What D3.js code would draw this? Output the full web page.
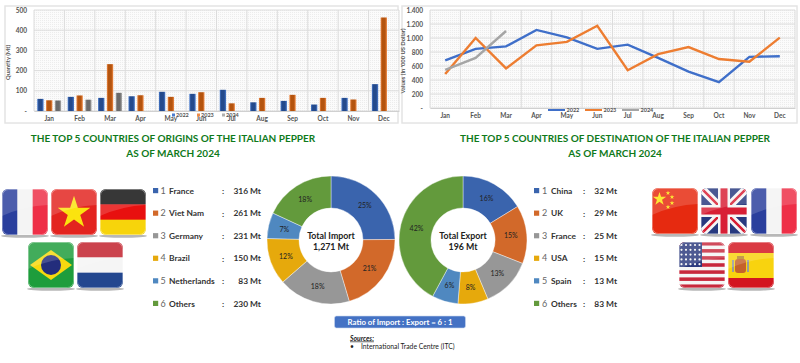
<!DOCTYPE html>
<html>
<head>
<meta charset="utf-8">
<script src="https://cdn.jsdelivr.net/npm/d3@7"></script>
<style>
	html, body { margin: 0; padding: 0; background: #fff; overflow: hidden; }
	svg { display: block; font-family: Lato, "Open Sans", sans-serif; }
</style>
</head>
<body>
<svg id="chart" width="800" height="363"></svg>
<script>
const MONTHS = ['Jan', 'Feb', 'Mar', 'Apr', 'May', 'Jun', 'Jul', 'Aug', 'Sep', 'Oct', 'Nov', 'Dec'];
const YEARS = ['2022', '2023', '2024'];

const QTY_2022 = [60, 70, 65, 73, 95, 85, 105, 43, 50, 32, 65, 133];
const QTY_2023 = [53, 77, 232, 78, 70, 93, 38, 65, 80, 65, 57, 463];
const QTY_2024 = [52, 56, 90];
const QTY_TICKS = [0, 100, 200, 300, 400, 500];

const VAL_2022 = [680, 845, 880, 1115, 1010, 845, 905, 715, 520, 370, 730, 740];
const VAL_2023 = [485, 1000, 565, 895, 945, 1175, 540, 770, 870, 700, 660, 1005];
const VAL_2024 = [545, 715, 1100];
const VAL_TICKS = [0, 200, 400, 600, 800, 1000, 1200, 1400];

const IMPORT_NAMES = ['France', 'Viet Nam', 'Germany', 'Brazil', 'Netherlands', 'Others'];
const IMPORT_MT = [316, 261, 231, 150, 83, 230];
const IMPORT_PCT = [25, 21, 18, 12, 7, 18];
const EXPORT_NAMES = ['China', 'UK', 'France', 'USA', 'Spain', 'Others'];
const EXPORT_MT = [32, 29, 25, 15, 13, 83];
const EXPORT_PCT = [16, 15, 13, 8, 6, 42];

const SLICE_COLORS = ['#3a64ad', '#d2692a', '#979797', '#e6a90c', '#4f88c0', '#639a3c'];
const LINE_COLORS = ['#3f6fc9', '#ed7d31', '#a5a5a5'];
const BAR_EDGE = ['#4a7ccf', '#f08a45', '#b0b0b0'];
const BAR_DARK = ['#244a8c', '#b4540f', '#6a6a6a'];

const svg = d3.select('#chart');
const defs = svg.append('defs');

// dotted texture behind both plots
const dots = defs.append('pattern')
	.attr('id', 'dots')
	.attr('width', 2)
	.attr('height', 2)
	.attr('patternUnits', 'userSpaceOnUse');
dots.append('rect').attr('width', 2).attr('height', 2).attr('fill', '#fbfbfb');
dots.append('rect').attr('width', 1).attr('height', 1).attr('fill', '#ececec');

// bevel look of the bars
YEARS.forEach((year, i) => {
	const grad = defs.append('linearGradient').attr('id', `bar-${i}`);
	grad.append('stop').attr('offset', '0%').attr('stop-color', BAR_EDGE[i]);
	grad.append('stop').attr('offset', '25%').attr('stop-color', BAR_DARK[i]);
	grad.append('stop').attr('offset', '70%').attr('stop-color', BAR_DARK[i]);
	grad.append('stop').attr('offset', '100%').attr('stop-color', BAR_EDGE[i]);
});

function drawPlotFrame(frame, plot, x, y, ticks, tickText, yLabel, yLabelX) {
	svg.append('rect')
		.attr('x', frame.x).attr('y', frame.y)
		.attr('width', frame.w).attr('height', frame.h)
		.attr('fill', '#fff')
		.attr('stroke', '#e4e4e4')
		.attr('stroke-width', 1.5);

	const g = svg.append('g');
	g.append('rect')
		.attr('x', plot.left).attr('y', plot.top)
		.attr('width', plot.right - plot.left)
		.attr('height', plot.bottom - plot.top)
		.attr('fill', 'url(#dots)');

	// horizontal grid
	g.selectAll('line.h').data(ticks).enter().append('line')
		.attr('x1', plot.left).attr('x2', plot.right)
		.attr('y1', (d) => y(d)).attr('y2', (d) => y(d))
		.attr('stroke', '#dcdcdc').attr('stroke-width', 1);

	// vertical grid on the band edges
	g.selectAll('line.v').data(MONTHS).enter().append('line')
		.attr('x1', (d) => x(d)).attr('x2', (d) => x(d))
		.attr('y1', plot.top).attr('y2', plot.bottom)
		.attr('stroke', '#dcdcdc').attr('stroke-width', 1);
	g.append('line')
		.attr('x1', plot.right).attr('x2', plot.right)
		.attr('y1', plot.top).attr('y2', plot.bottom)
		.attr('stroke', '#dcdcdc');

	const axisY = g.append('g')
		.attr('transform', `translate(${plot.left - 4}, 0)`)
		.call(d3.axisLeft(y).tickValues(ticks).tickSize(0).tickFormat(tickText));
	axisY.select('.domain').remove();
	axisY.selectAll('text')
		.attr('font-family', 'Lato')
		.attr('font-size', 6.5)
		.attr('font-weight', 700)
		.attr('fill', '#555');

	const axisX = g.append('g')
		.attr('transform', `translate(0, ${plot.bottom})`)
		.call(d3.axisBottom(x).tickSize(0).tickPadding(5));
	axisX.select('.domain').attr('stroke', '#d0d0d0');
	axisX.selectAll('text')
		.attr('font-family', 'Lato')
		.attr('font-size', 6.5)
		.attr('font-weight', 700)
		.attr('fill', '#555');

	g.append('text')
		.attr('transform', `translate(${yLabelX}, ${(plot.top + plot.bottom) / 2 + 2}) rotate(-90)`)
		.attr('text-anchor', 'middle')
		.attr('font-size', 5.8)
		.attr('font-weight', 700)
		.attr('fill', '#555')
		.text(yLabel);
}

function renderBars() {
	const plot = {left: 34, right: 399, top: 10, bottom: 111};
	const x = d3.scaleBand().domain(MONTHS).range([plot.left, plot.right]);
	const y = d3.scaleLinear().domain([0, 500]).range([plot.bottom, plot.top]);
	const inner = d3.scaleBand().domain(YEARS).range([0, x.bandwidth()]).paddingInner(0.28).paddingOuter(0.37);

	drawPlotFrame({x: 5, y: 6, w: 393, h: 117}, plot, x, y, QTY_TICKS,
		(d) => (d === 0 ? '-' : d), 'Quantity (Mt)', 10);

	[QTY_2022, QTY_2023, QTY_2024].forEach((values, i) => {
		svg.append('g').selectAll('rect')
			.data(values)
			.enter()
			.append('rect')
			.attr('x', (d, m) => x(MONTHS[m]) + inner(YEARS[i]))
			.attr('y', (d) => y(d))
			.attr('width', inner.bandwidth())
			.attr('height', (d) => y(0) - y(d))
			.attr('fill', `url(#bar-${i})`);
	});

	// legend sits on top of the May/Jun/Jul labels in the original
	const legend = d3.scalePoint().domain(YEARS).range([172, 222]);
	YEARS.forEach((year, i) => {
		svg.append('rect')
			.attr('x', legend(year)).attr('y', 113.5)
			.attr('width', 3).attr('height', 3)
			.attr('fill', BAR_EDGE[i]);
		svg.append('text')
			.attr('x', legend(year) + 4).attr('y', 117)
			.attr('font-size', 5.5)
			.attr('font-weight', 700)
			.attr('fill', '#555')
			.text(year);
	});
}

function renderLines() {
	const plot = {left: 430, right: 795, top: 10, bottom: 108};
	const x = d3.scaleBand().domain(MONTHS).range([plot.left, plot.right]);
	const y = d3.scaleLinear().domain([0, 1400]).range([plot.bottom, plot.top]);

	drawPlotFrame({x: 402, y: 6, w: 395, h: 117}, plot, x, y, VAL_TICKS,
		(d) => (d === 0 ? '-' : d3.format(',')(d).replace(',', '.')), "Values (In '000 US Dollar)", 405);

	const line = d3.line()
		.x((d, m) => x(MONTHS[m]) + x.bandwidth() / 2)
		.y((d) => y(d));

	[VAL_2022, VAL_2023, VAL_2024].forEach((values, i) => {
		svg.append('path')
			.datum(values)
			.attr('fill', 'none')
			.attr('stroke', LINE_COLORS[i])
			.attr('stroke-width', 2.4)
			.attr('d', line);
	});

	const legend = d3.scalePoint().domain(YEARS).range([548, 622]);
	YEARS.forEach((year, i) => {
		svg.append('line')
			.attr('x1', legend(year)).attr('x2', legend(year) + 17)
			.attr('y1', 110).attr('y2', 110)
			.attr('stroke', LINE_COLORS[i])
			.attr('stroke-width', 2);
		svg.append('text')
			.attr('x', legend(year) + 18.5).attr('y', 112)
			.attr('font-size', 5.5)
			.attr('font-weight', 700)
			.attr('fill', '#555')
			.text(year);
	});
}

function renderTitle(cx, lines) {
	lines.forEach((t, i) => {
		svg.append('text')
			.attr('x', cx).attr('y', 142 + i * 14.5)
			.attr('text-anchor', 'middle')
			.attr('font-size', 10)
			.attr('font-weight', 700)
			.attr('fill', '#0f7a1b')
			.text(t);
	});
}

function renderLegend(names, values, pos) {
	const rows = d3.scalePoint().domain(d3.range(names.length)).range([190.7, 303.5]);
	names.forEach((name, i) => {
		const row = svg.append('g').attr('transform', `translate(0, ${rows(i)})`);
		row.append('rect')
			.attr('x', pos.square).attr('y', -2.7)
			.attr('width', 5.2).attr('height', 5.2)
			.attr('fill', SLICE_COLORS[i]);
		row.append('text')
			.attr('x', pos.number).attr('y', 3)
			.attr('font-size', 9)
			.attr('fill', '#666')
			.text(i + 1);
		row.append('text')
			.attr('x', pos.name).attr('y', 3)
			.attr('font-size', 8.4)
			.attr('font-weight', 700)
			.attr('fill', '#333')
			.text(name);
		row.append('text')
			.attr('x', pos.colon).attr('y', 3.5)
			.attr('font-size', 8.4)
			.attr('font-weight', 700)
			.attr('fill', '#333')
			.text(':');
		row.append('text')
			.attr('x', pos.value).attr('y', 3)
			.attr('text-anchor', 'end')
			.attr('font-size', 8.4)
			.attr('font-weight', 700)
			.attr('fill', '#333')
			.text(`${values[i]} Mt`);
	});
}

function renderDonut(values, pct, cx, cy, captions) {
	const pie = d3.pie().sort(null)(values);
	const arc = d3.arc().innerRadius(32).outerRadius(64);
	const g = svg.append('g').attr('transform', `translate(${cx}, ${cy})`);

	g.selectAll('path').data(pie).enter().append('path')
		.attr('d', arc)
		.attr('fill', (d, i) => SLICE_COLORS[i])
		.attr('stroke', '#fff')
		.attr('stroke-width', 0.4);

	// labels are the rounded figures printed in the original
	g.selectAll('text.pct').data(pie).enter().append('text')
		.attr('class', 'pct')
		.attr('transform', (d) => `translate(${arc.centroid(d)})`)
		.attr('text-anchor', 'middle')
		.attr('dy', '0.35em')
		.attr('font-size', 7)
		.attr('fill', '#222')
		.text((d, i) => `${pct[i]}%`);

	captions.forEach((t, i) => {
		g.append('text')
			.attr('y', -1 + i * 10.5)
			.attr('text-anchor', 'middle')
			.attr('font-size', 8.8)
			.attr('font-weight', 700)
			.attr('fill', '#222')
			.text(t);
	});
}

// flags are decoration, each one draws into a 46x46 box
function flagBase(x, y) {
	const id = `clip-${x}-${y}`;
	defs.append('clipPath').attr('id', id)
		.append('rect').attr('width', 46).attr('height', 46).attr('rx', 6);
	const outer = svg.append('g').attr('transform', `translate(${x}, ${y})`);
	outer.append('ellipse')
		.attr('cx', 23).attr('cy', 47)
		.attr('rx', 24).attr('ry', 1.8)
		.attr('fill', '#888')
		.attr('opacity', 0.6);
	const g = outer.append('g').attr('clip-path', `url(#${id})`);
	g.gloss = () => {
		g.append('path')
			.attr('d', 'M0,0H46V16Q22,17 0,27Z')
			.attr('fill', '#fff')
			.attr('opacity', 0.16);
		g.append('rect')
			.attr('x', 0.5).attr('y', 0.5)
			.attr('width', 45).attr('height', 45).attr('rx', 6)
			.attr('fill', 'none')
			.attr('stroke', '#fff')
			.attr('stroke-opacity', 0.35);
	};
	return g;
}

function stripesV(g, colors) {
	colors.forEach((c, i) => {
		g.append('rect')
			.attr('x', i * 46 / colors.length).attr('width', 46 / colors.length + 0.5)
			.attr('height', 46).attr('fill', c);
	});
}

function stripesH(g, colors, heights) {
	let top = 0;
	colors.forEach((c, i) => {
		const h = heights ? heights[i] : 46 / colors.length;
		g.append('rect').attr('y', top).attr('width', 46).attr('height', h + 0.5).attr('fill', c);
		top += h;
	});
}

function star(g, x, y, size, color) {
	g.append('path')
		.attr('d', d3.symbol(d3.symbolStar, size)())
		.attr('transform', `translate(${x}, ${y})`)
		.attr('fill', color);
}

const FLAGS = {
	france(g) {
		stripesV(g, ['#2a3f9d', '#f4f4f4', '#ee2f47']);
	},
	vietnam(g) {
		g.append('rect').attr('width', 46).attr('height', 46).attr('fill', '#e3241f');
		star(g, 23, 24, 330, '#fbe30f');
	},
	germany(g) {
		stripesH(g, ['#111', '#e8100f', '#f7d40b']);
	},
	brazil(g) {
		g.append('rect').attr('width', 46).attr('height', 46).attr('fill', '#1e9d3c');
		g.append('path').attr('d', 'M23,8L44,23L23,38L2,23Z').attr('fill', '#f6d90f');
		g.append('circle').attr('cx', 23).attr('cy', 23).attr('r', 10).attr('fill', '#232d7c');
	},
	netherlands(g) {
		stripesH(g, ['#c1202c', '#f5f5f5', '#23478f']);
	},
	china(g) {
		g.append('rect').attr('width', 46).attr('height', 46).attr('fill', '#e62a10');
		star(g, 7.5, 11, 55, '#fde30f');
		[[16, 5], [20, 9], [20, 15], [16, 19]].forEach((p) => star(g, p[0], p[1], 7, '#fde30f'));
	},
	uk(g) {
		g.append('rect').attr('width', 46).attr('height', 46).attr('fill', '#27397f');
		g.append('path').attr('d', 'M0,0L46,46M46,0L0,46').attr('stroke', '#f5f5f5').attr('stroke-width', 8);
		g.append('path').attr('d', 'M0,0L46,46M46,0L0,46').attr('stroke', '#d81f35').attr('stroke-width', 2.5);
		g.append('path').attr('d', 'M23,0V46M0,23H46').attr('stroke', '#f5f5f5').attr('stroke-width', 12);
		g.append('path').attr('d', 'M23,0V46M0,23H46').attr('stroke', '#d81f35').attr('stroke-width', 7);
	},
	usa(g) {
		stripesH(g, d3.range(13).map((i) => (i % 2 ? '#f5f5f5' : '#c8283c')));
		g.append('rect').attr('width', 23).attr('height', 25).attr('fill', '#2c3a7e');
		d3.range(5).forEach((r) => d3.range(5).forEach((c) => {
			g.append('circle')
				.attr('cx', 2.5 + c * 4.5).attr('cy', 3 + r * 4.8)
				.attr('r', 1.1).attr('fill', '#f5f5f5');
		}));
	},
	spain(g) {
		stripesH(g, ['#d3151f', '#f8d30f', '#d3151f'], [11, 25, 10]);
		g.append('rect').attr('x', 7).attr('y', 17).attr('width', 11).attr('height', 14).attr('rx', 3).attr('fill', '#c5622a');
		g.append('rect').attr('x', 9).attr('y', 14).attr('width', 7).attr('height', 3).attr('fill', '#b98a2a');
		g.append('rect').attr('x', 4).attr('y', 18).attr('width', 2).attr('height', 12).attr('fill', '#9a9a9a');
		g.append('rect').attr('x', 19).attr('y', 18).attr('width', 2).attr('height', 12).attr('fill', '#9a9a9a');
	}
};

function renderFlags() {
	const spots = [
		['france', 2, 189], ['vietnam', 51, 189], ['germany', 100, 189],
		['brazil', 28, 242], ['netherlands', 77, 242],
		['china', 652, 188], ['uk', 701, 188], ['france', 751, 188],
		['usa', 679, 242], ['spain', 728, 242]
	];
	for(const [name, x, y] of spots) {
		const g = flagBase(x, y);
		FLAGS[name](g);
		g.gloss();
	}
}

function renderFooter() {
	svg.append('rect')
		.attr('x', 334.5).attr('y', 316)
		.attr('width', 131).attr('height', 12).attr('rx', 2)
		.attr('fill', '#4472c4')
		.attr('stroke', '#c9d6ee')
		.attr('stroke-width', 0.6);
	svg.append('text')
		.attr('x', 400).attr('y', 325)
		.attr('text-anchor', 'middle')
		.attr('font-size', 7.8)
		.attr('font-weight', 700)
		.attr('fill', '#fff')
		.text('Ratio of Import : Export = 6 : 1');
	svg.append('text')
		.attr('x', 350).attr('y', 340.5)
		.attr('font-size', 6.8)
		.attr('font-weight', 700)
		.attr('font-style', 'italic')
		.attr('text-decoration', 'underline')
		.attr('fill', '#222')
		.text('Sources:');
	svg.append('text')
		.attr('x', 350).attr('y', 348.5)
		.attr('font-size', 6.8)
		.attr('fill', '#222')
		.text('•');
	svg.append('text')
		.attr('x', 361).attr('y', 348.5)
		.attr('font-size', 6.8)
		.attr('fill', '#222')
		.text('International Trade Centre (ITC)');
}

renderBars();
renderLines();
renderTitle(173, ['THE TOP 5 COUNTRIES OF ORIGINS OF THE ITALIAN PEPPER', 'AS OF MARCH 2024']);
renderTitle(615, ['THE TOP 5 COUNTRIES OF DESTINATION OF THE ITALIAN PEPPER', 'AS OF MARCH 2024']);
renderLegend(IMPORT_NAMES, IMPORT_MT, {square: 153, number: 160.5, name: 169, colon: 222, value: 261});
renderLegend(EXPORT_NAMES, EXPORT_MT, {square: 534, number: 542, name: 551, colon: 583, value: 617});
renderDonut(IMPORT_MT, IMPORT_PCT, 331, 240, ['Total Import', '1,271 Mt']);
renderDonut(EXPORT_MT, EXPORT_PCT, 463, 240, ['Total Export', '196 Mt']);
renderFlags();
renderFooter();
</script>
</body>
</html>
